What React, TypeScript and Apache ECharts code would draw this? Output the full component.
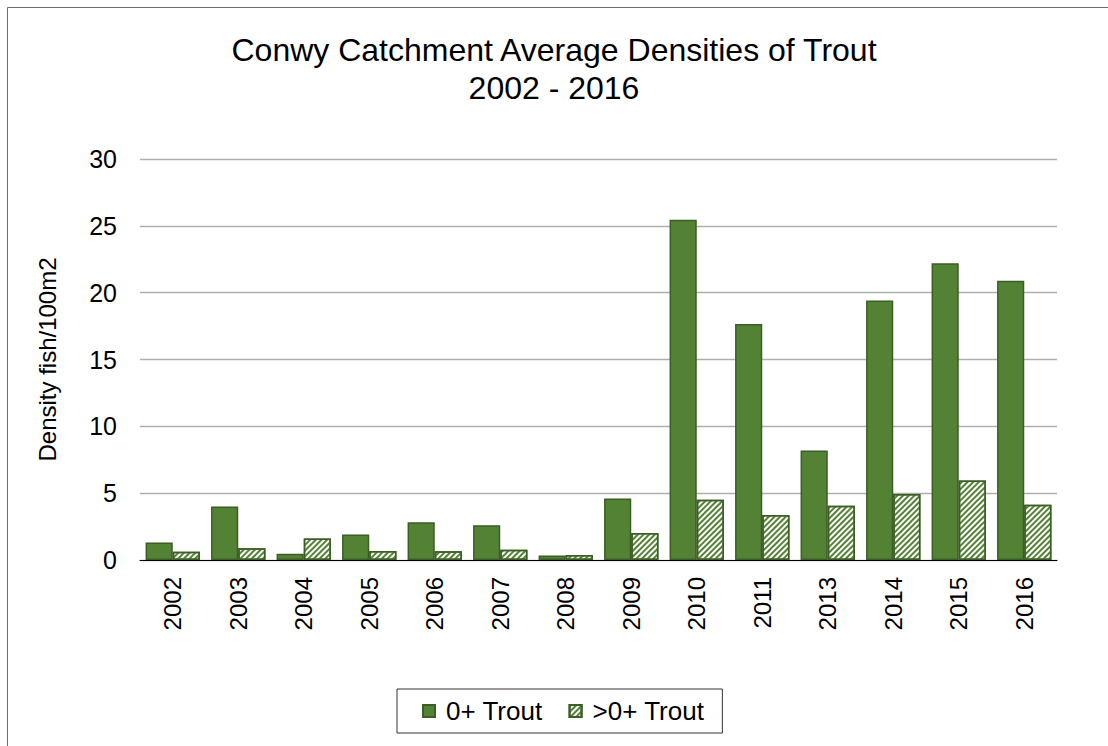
import React, { useEffect, useRef } from "react";
import * as echarts from "echarts";

const categories = ["2002", "2003", "2004", "2005", "2006", "2007", "2008", "2009", "2010", "2011", "2013", "2014", "2015", "2016"];
const trout0 = [1.3, 4.0, 0.47, 1.9, 2.82, 2.6, 0.33, 4.6, 25.45, 17.65, 8.2, 19.42, 22.2, 20.9];
const troutOver0 = [0.62, 0.87, 1.6, 0.67, 0.66, 0.77, 0.38, 2.02, 4.5, 3.37, 4.06, 4.94, 5.94, 4.14];
const yTicks = { min: 0, max: 30, interval: 5 };

const GREEN = "#548235";
const DARK = "#3b5e25";
const FONT = "Liberation Sans, Arial, sans-serif";

export default function App() {
  const ref = useRef<HTMLDivElement>(null);
  useEffect(() => {
    const chart = echarts.init(ref.current!, null, { renderer: "svg" });
    chart.setOption({
      animation: false,
      backgroundColor: "#ffffff",
      textStyle: { fontFamily: FONT },
      title: {
        text: "Conwy Catchment Average Densities of Trout\n2002 - 2016",
        left: "center",
        top: 26,
        textStyle: { fontFamily: FONT, fontSize: 32, fontWeight: "normal", color: "#000", lineHeight: 38 },
      },
      graphic: [
        {
          type: "rect",
          shape: { x: 7.5, y: 7.5, width: 1120, height: 760 },
          style: { fill: "none", stroke: "#6e6e6e", lineWidth: 1 },
          silent: true,
        },
      ],
      legend: {
        left: 397,
        top: 689,
        padding: [9, 18, 9, 25],
        borderColor: "#333",
        borderWidth: 1,
        itemWidth: 12,
        itemHeight: 12,
        itemGap: 26,
        icon: "rect",
        textStyle: { fontFamily: FONT, fontSize: 26, color: "#000", padding: [0, 0, 0, 6] },
        data: ["0+ Trout", ">0+ Trout"],
      },
      grid: { left: 140, right: 51, top: 159, bottom: 186 },
      xAxis: {
        type: "category",
        data: categories,
        axisLine: { lineStyle: { color: "#000", width: 1 } },
        axisTick: { show: false },
        axisLabel: { rotate: 90, fontSize: 24, color: "#000", fontFamily: FONT, margin: 17 },
      },
      yAxis: {
        type: "value",
        min: yTicks.min,
        max: yTicks.max,
        interval: yTicks.interval,
        name: "Density fish/100m2",
        nameLocation: "middle",
        nameGap: 81,
        nameTextStyle: { fontSize: 24, color: "#000", fontFamily: FONT },
        axisLine: { show: false },
        axisTick: { show: false },
        axisLabel: { fontSize: 25, color: "#000", fontFamily: FONT, margin: 23 },
        splitLine: { lineStyle: { color: "#aeaeae", width: 1.3 } },
      },
      series: [
        {
          name: "0+ Trout",
          type: "bar",
          data: trout0,
          barGap: "0%",
          barCategoryGap: "17%",
          itemStyle: { color: GREEN, borderColor: DARK, borderWidth: 1.5 },
        },
        {
          name: ">0+ Trout",
          type: "bar",
          data: troutOver0,
          itemStyle: {
            color: "#ffffff",
            borderColor: DARK,
            borderWidth: 1.5,
            decal: {
              symbol: "rect",
              symbolSize: 1,
              color: GREEN,
              backgroundColor: "#ffffff",
              dashArrayX: [1, 0],
              dashArrayY: [2, 2],
              rotation: -Math.PI / 4,
            },
          },
        },
      ],
    });
    return () => chart.dispose();
  }, []);
  return <div ref={ref} style={{ position: "fixed", left: 0, top: 0, width: 1108, height: 746 }} />;
}
